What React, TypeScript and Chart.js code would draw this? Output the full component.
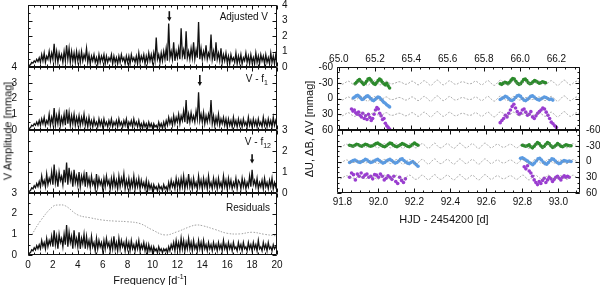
import React, { useEffect, useRef } from 'react';
import { Chart, registerables } from 'chart.js';
Chart.register(...registerables);

const FONT = "'Liberation Sans', Arial, Helvetica, sans-serif";

// ---------- Left: amplitude spectra (step 0.1 d^-1, 0..20) ----------
const FREQ_STEP = 0.1;
const adjustedV = [
  0.02,0.1,0.15,0.3,0.25,0.4,0.3,0.5,0.35,0.6,
  0.3,0.8,0.4,0.9,0.3,0.7,0.5,1.0,0.4,0.9,
  0.5,1.5,0.4,1.0,0.3,0.9,0.5,0.8,0.3,1.0,
  0.4,1.4,0.5,1.2,0.3,1.0,0.4,0.9,0.3,1.0,
  0.4,0.9,0.3,1.0,0.4,0.8,0.5,1.2,0.3,0.8,
  0.2,0.7,0.4,0.8,0.3,0.6,0.2,0.8,0.3,0.7,
  0.4,0.8,0.2,0.7,0.3,0.6,0.4,0.8,0.2,0.7,
  0.3,0.6,0.2,0.7,0.3,0.8,0.4,0.6,0.2,0.7,
  0.3,0.7,0.2,0.8,0.4,0.6,0.3,0.7,0.2,0.9,
  0.3,0.7,0.4,0.8,0.2,0.7,0.3,0.9,0.4,0.8,
  0.3,0.9,0.4,1.9,0.5,0.8,0.3,0.9,0.4,1.0,
  0.5,1.2,0.4,2.8,0.6,1.0,0.5,1.6,0.4,1.0,
  0.6,1.2,0.5,2.5,0.7,1.1,0.5,2.3,0.6,1.0,
  0.5,1.2,0.6,1.6,0.5,1.1,0.6,2.9,0.5,1.2,
  0.5,1.0,0.6,1.4,0.5,0.9,0.6,2.1,0.5,1.0,
  0.4,1.6,0.5,0.9,0.4,1.2,0.3,0.8,0.4,0.9,
  0.3,0.7,0.2,0.8,0.4,0.6,0.3,0.9,0.2,0.7,
  0.3,0.8,0.2,0.6,0.4,0.9,0.3,0.7,0.2,0.8,
  0.3,0.6,0.2,0.9,0.3,0.7,0.2,0.8,0.4,0.7,
  0.2,0.8,0.3,0.6,0.2,0.9,0.3,0.7,0.2,0.8,
  0.4,
];
const vMinusF1 = [
  0.02,0.1,0.15,0.3,0.25,0.4,0.3,0.5,0.3,0.6,
  0.3,0.7,0.4,0.8,0.3,0.6,0.4,1.0,0.3,0.8,
  0.4,1.4,0.3,0.9,0.4,1.1,0.3,0.8,0.4,1.0,
  0.3,1.3,0.4,1.1,0.3,0.9,0.4,1.0,0.3,0.8,
  0.4,0.9,0.3,0.8,0.4,1.0,0.3,0.7,0.2,0.8,
  0.3,0.6,0.2,0.7,0.3,0.5,0.2,0.7,0.3,0.6,
  0.2,0.7,0.3,0.5,0.2,0.6,0.3,0.7,0.2,0.5,
  0.3,0.6,0.2,0.7,0.3,0.5,0.2,0.6,0.3,0.7,
  0.2,0.5,0.3,0.6,0.2,0.7,0.3,0.5,0.2,0.6,
  0.2,0.4,0.1,0.5,0.2,0.4,0.1,0.5,0.2,0.4,
  0.1,0.4,0.2,0.3,0.1,0.5,0.2,0.4,0.1,0.5,
  0.2,0.6,0.3,0.8,0.4,0.7,0.3,0.9,0.4,0.8,
  0.5,1.0,0.4,0.9,0.6,1.2,0.5,1.9,0.4,1.0,
  0.5,1.1,0.6,0.9,0.5,1.2,0.7,2.4,0.6,1.0,
  0.5,1.1,0.4,0.9,0.5,1.0,0.6,1.9,0.4,0.9,
  0.3,0.8,0.4,1.0,0.3,0.7,0.4,0.8,0.3,0.7,
  0.2,0.7,0.3,0.6,0.2,0.8,0.3,0.6,0.2,0.7,
  0.3,0.6,0.2,0.7,0.3,0.5,0.2,0.8,0.3,0.6,
  0.2,0.7,0.3,0.6,0.2,0.7,0.3,0.5,0.2,0.8,
  0.3,0.6,0.2,0.7,0.3,0.6,0.2,0.8,0.3,0.6,
  0.3,
];
const vMinusF12 = [
  0.02,0.08,0.12,0.25,0.2,0.35,0.25,0.45,0.3,0.55,
  0.3,0.8,0.4,0.6,0.3,0.9,0.4,0.7,0.5,1.0,
  0.4,1.35,0.5,0.9,0.3,1.0,0.6,0.8,0.4,1.1,
  0.5,1.45,0.4,1.2,0.6,0.9,0.3,1.1,0.5,0.8,
  0.4,1.0,0.3,0.8,0.5,0.9,0.3,1.0,0.4,0.7,
  0.3,0.8,0.4,0.6,0.2,0.9,0.3,0.7,0.4,0.6,
  0.2,0.7,0.3,0.8,0.4,0.6,0.2,0.7,0.3,0.8,
  0.3,0.6,0.2,0.8,0.3,0.7,0.4,0.9,0.2,0.6,
  0.3,0.7,0.2,0.6,0.3,0.8,0.2,0.6,0.3,0.7,
  0.2,0.6,0.3,0.5,0.2,0.6,0.1,0.5,0.2,0.4,
  0.1,0.4,0.2,0.3,0.1,0.4,0.2,0.3,0.1,0.4,
  0.2,0.3,0.1,0.5,0.2,0.6,0.3,0.5,0.2,0.7,
  0.3,0.6,0.2,0.7,0.3,0.8,0.2,0.6,0.3,0.9,
  0.3,0.6,0.2,0.7,0.3,0.5,0.2,0.8,0.3,0.6,
  0.2,0.7,0.3,0.6,0.2,0.8,0.3,0.5,0.2,0.7,
  0.3,0.6,0.2,0.7,0.3,0.5,0.2,0.8,0.3,0.6,
  0.2,0.7,0.3,0.6,0.2,0.5,0.3,0.7,0.2,0.6,
  0.5,0.2,0.7,0.3,0.6,0.2,0.5,0.3,0.8,0.3,
  1.1,0.4,0.6,0.3,0.7,0.2,0.5,0.3,0.6,0.2,
  0.7,0.3,0.5,0.2,0.6,0.3,0.7,0.2,0.5,0.3,
  0.6,
];
const residuals = [
  0.02,0.08,0.12,0.25,0.2,0.35,0.25,0.45,0.3,0.5,
  0.3,0.7,0.4,0.6,0.3,0.8,0.4,0.7,0.5,0.9,
  0.4,1.2,0.5,0.9,0.3,1.0,0.6,0.8,0.4,1.0,
  0.5,1.45,0.4,1.1,0.6,0.9,0.3,1.2,0.5,0.8,
  0.4,1.1,0.3,0.8,0.5,1.0,0.3,0.9,0.4,0.7,
  0.3,0.9,0.4,0.6,0.2,0.8,0.3,0.7,0.4,0.6,
  0.2,0.7,0.3,0.8,0.4,0.6,0.2,0.7,0.3,0.9,
  0.3,0.6,0.2,0.8,0.3,0.7,0.4,0.6,0.2,0.7,
  0.3,0.6,0.2,0.7,0.3,0.5,0.2,0.6,0.3,0.7,
  0.2,0.5,0.3,0.6,0.2,0.5,0.1,0.5,0.2,0.4,
  0.1,0.4,0.2,0.3,0.1,0.4,0.2,0.3,0.1,0.3,
  0.2,0.3,0.1,0.4,0.2,0.5,0.3,0.6,0.2,0.7,
  0.3,0.6,0.2,0.8,0.3,0.7,0.2,0.6,0.3,0.8,
  0.3,0.6,0.2,0.7,0.3,0.5,0.2,0.7,0.3,0.6,
  0.2,0.7,0.3,0.5,0.2,0.6,0.3,0.5,0.2,0.6,
  0.3,0.5,0.2,0.6,0.3,0.5,0.2,0.7,0.3,0.5,
  0.2,0.6,0.3,0.5,0.2,0.6,0.3,0.4,0.2,0.6,
  0.3,0.5,0.2,0.6,0.3,0.4,0.2,0.6,0.3,0.5,
  0.2,0.6,0.3,0.5,0.2,0.7,0.3,0.4,0.2,0.6,
  0.3,0.5,0.2,0.6,0.3,0.4,0.2,0.5,0.3,0.4,
  0.3,
];
// significance level curve in the residual panel
const noiseFreq = [0.3, 1, 2, 2.5, 3, 4, 5, 6, 7, 8, 9, 10, 11, 12, 13, 13.5, 14, 15, 16, 17, 18, 19, 20];
const noiseLevel = [0.97, 1.65, 2.35, 2.42, 2.38, 1.94, 1.8, 1.69, 1.64, 1.61, 1.52, 1.21, 0.97, 1.13, 1.37, 1.45, 1.42, 1.24, 1.05, 1.02, 1.1, 1.0, 0.92];
// arrows marking the removed frequencies (panels 1..3)
const arrowFreq = [11.35, 13.8, 18.0];
const arrowTop = [3.6, 3.5, 1.85];
const arrowBottom = [2.95, 2.8, 1.4];

const freqTicks = [0, 2, 4, 6, 8, 10, 12, 14, 16, 18, 20];
const ampTicks4 = [0, 1, 2, 3, 4];
const ampTicks3 = [0, 1, 2, 3];

// ---------- Right: light curves ----------
const MODEL_STEP = 0.0175;
const modelTopStart = 65.0;
const modelTop = [
  0,3,0,-3, 1,4,0,-4, 0,5,1,-4, 0,4,0,-3, 1,2,0,-2, 0,3,1,-3, 0,4,0,-4, 1,5,0,-5,
  0,4,0,-4, 1,3,0,-2, 0,2,1,-3, 0,4,0,-4, 1,5,0,-5, 0,4,1,-4, 0,3,0,-2, 1,2,0,-3,
  0,4,0,-4, 1,5,0,-5, 0,4,0,-3, 0,
];
const modelBotStart = 91.77;
const modelBot = [
  0,3,0,-3, 0,2,1,-2, 0,3,0,-3, 1,4,0,-4, 0,4,0,-4, 1,5,0,-4, 0,4,1,-4, 0,5,0,-5,
  1,4,0,-4, 0,5,1,-5, 0,4,0,-4, 1,5,0,-5, 0,4,0,-3, 1,3,0,-3, 0,4,0,-4, 1,5,0,-4,
  0,4,1,-4, 0,3,0,-3, 1,4,0,-4, 0,3,
];
const offsetU = -30, offsetB = 0, offsetV = 30;

const uTopA = [-28,-31,-34,-36,-33,-30,-27,-29,-33,-37,-38,-35,-31,-28,-27,-30,-34,-37,-35,-31,-28,-26,-29,-24,-20];
const uTopB = [-28,-27,-29,-31,-30,-28,-31,-35,-38,-37,-33,-29,-27,-28,-32,-36,-37,-34,-30,-28,-29,-32,-34,-33,-31,-29,-30,-32,-31,-30];
const bTopA = [-1,-3,-5,-6,-4,-1,2,1,-2,-4,-5,-3,0,3,4,2,-1,-3,-2,1,4,7,9,12,14,16];
const bTopB = [2,0,-2,-4,-3,0,3,4,2,-2,-5,-6,-4,0,3,4,2,-1,-4,-5,-3,0,2,3,1,-1,-3,-2,0,2,1,3];
const vTopA = [20,24,22,27,30,26,32,35,28,38,33,40,30,36,42,38,30,22,17,20,28,33,40,38,47,52,55,58];
const vTopB = [46,42,38,32,35,28,22,15,11,18,25,30,28,22,20,26,32,30,25,35,38,33,28,25,22,18,20,26,32,38,45,48,52,55];
const uBotA = [-31,-30,-29,-31,-33,-32,-30,-29,-31,-33,-32,-30,-29,-30,-32,-34,-35,-33,-31,-29,-28,-30,-33,-35,-34,-31,-29,-28,-30,-32,-34,-33,-31,-29,-28,-30,-33,-35,-33,-31];
const uBotB = [-31,-30,-29,-30,-32,-28,-26,-29,-33,-36,-34,-30,-27,-29,-33,-36,-34,-30,-27,-28,-31,-34,-32,-29,-28,-30,-32,-31,-30,-30];
const bBotA = [2,0,-2,-3,-1,1,2,0,-2,-4,-3,0,2,1,-1,-3,-4,-2,1,3,2,-1,-3,-4,-2,1,3,2,-1,-4,-5,-2,1,3,4,2,0,3,6,9];
const bBotB = [-6,-7,-5,-3,-1,2,4,6,3,-1,-5,-6,-3,1,4,5,2,-2,-5,-4,-1,2,4,3,0,-2,-1,0,-1,0];
const vBotA = [30,22,25,35,24,28,22,30,26,24,30,28,33,25,26,30,24,28,35,32,27,30,34,28,38,42,30,36,40,33];
const vBotB = [10,14,8,18,22,28,35,40,44,38,42,36,32,40,35,30,33,38,34,30,28,32,35,30,27,30,28,30];
// time span [start, end] of each observing run
const uTopASpan = [65.09, 65.28], uTopBSpan = [65.89, 66.14];
const bTopASpan = [65.08, 65.28], bTopBSpan = [65.89, 66.18];
const vTopASpan = [65.07, 65.28], vTopBSpan = [65.89, 66.2];
const uBotASpan = [91.84, 92.22], uBotBSpan = [92.8, 93.07];
const bBotASpan = [91.84, 92.22], bBotBSpan = [92.79, 93.07];
const vBotASpan = [91.84, 92.15], vBotBSpan = [92.81, 93.06];

const hjdTopTicks = [65.0, 65.2, 65.4, 65.6, 65.8, 66.0, 66.2];
const hjdBotTicks = [91.8, 92.0, 92.2, 92.4, 92.6, 92.8, 93.0];
const dmagTicks = [-60, -30, 0, 30, 60];

const GREEN = '#2b8a2b';
const BLUE = '#5b9be2';
const PURPLE = '#9a3dd0';

// ---------- helpers ----------
const W = 600, H = 285;
const spectrum = (vals: number[]) => vals.map((v, i) => ({ x: +(i * FREQ_STEP).toFixed(2), y: v }));
const model = (start: number, vals: number[], off: number) => vals.map((v, i) => ({ x: start + i * MODEL_STEP, y: v + off }));
const run = (span: number[], vals: number[]) => vals.map((v, i) => ({ x: span[0] + (span[1] - span[0]) * i / (vals.length - 1), y: v }));

const framePlugin = {
  id: 'frame',
  afterDatasetsDraw(chart: any, _a: any, opts: any) {
    if (!opts || !opts.on) return;
    const { ctx, chartArea: a } = chart;
    const xs = chart.scales.x, ys = chart.scales.y;
    const L = Math.round(a.left) + 0.5, R = Math.round(a.right) - 0.5;
    const T = Math.round(a.top) + 0.5, B = Math.round(a.bottom) - 0.5;
    ctx.save();
    ctx.strokeStyle = '#111';
    ctx.lineWidth = 1;
    ctx.beginPath();
    ctx.rect(L, T, R - L, B - T);
    const yTicks = (step: number, len: number) => {
      const lo = Math.min(ys.min, ys.max), hi = Math.max(ys.min, ys.max);
      for (let v = Math.ceil(lo / step) * step; v <= hi + 1e-9; v += step) {
        const p = Math.round(ys.getPixelForValue(v)) + 0.5;
        ctx.moveTo(L, p); ctx.lineTo(L + len, p);
        ctx.moveTo(R, p); ctx.lineTo(R - len, p);
      }
    };
    const x0 = Math.ceil(xs.min / opts.xMinor - 1e-9) * opts.xMinor;
    for (let v = x0; v <= xs.max + 1e-9; v += opts.xMinor) {
      const p = Math.round(xs.getPixelForValue(v)) + 0.5;
      const isMajor = Math.abs(v / opts.xMajor - Math.round(v / opts.xMajor)) < 1e-6;
      const len = isMajor ? 4 : 2;
      ctx.moveTo(p, B); ctx.lineTo(p, B - len);
      ctx.moveTo(p, T); ctx.lineTo(p, T + len);
    }
    yTicks(opts.yMinor, 2);
    yTicks(opts.yMajor, 4);
    ctx.stroke();
    if (opts.arrow) {
      const { x, y0, y1 } = opts.arrow;
      const px = xs.getPixelForValue(x), pt = ys.getPixelForValue(y0), pb = ys.getPixelForValue(y1);
      ctx.fillStyle = '#111';
      ctx.lineWidth = 1.6;
      ctx.beginPath();
      ctx.moveTo(px, pt); ctx.lineTo(px, pb - 3);
      ctx.stroke();
      ctx.beginPath();
      ctx.moveTo(px - 2.2, pb - 4); ctx.lineTo(px + 2.2, pb - 4); ctx.lineTo(px, pb);
      ctx.closePath(); ctx.fill();
    }
    ctx.restore();
  },
};

type Rect = { l: number; t: number; r: number; b: number };
interface PanelCfg {
  rect: Rect;
  xMin: number; xMax: number; yMin: number; yMax: number;
  reverse?: boolean;
  xPos?: 'top' | 'bottom';
  yPos: 'left' | 'right';
  xTicks: number[]; yTicks: number[];
  xPad?: number; yPad: number;
  xFmt?: (v: number) => string;
  xMinor: number; xMajor: number; yMinor: number; yMajor: number;
  arrow?: { x: number; y0: number; y1: number };
  datasets: any[];
}

const YW = 30, XH = 16;
function makeConfig(c: PanelCfg): any {
  const padding = {
    left: c.rect.l - (c.yPos === 'left' ? YW : 0),
    right: W - c.rect.r - (c.yPos === 'right' ? YW : 0),
    top: c.rect.t - (c.xPos === 'top' ? XH : 0),
    bottom: H - c.rect.b - (c.xPos === 'bottom' ? XH : 0),
  };
  const tickFont = { family: FONT, size: 10 };
  return {
    type: 'line',
    data: { datasets: c.datasets },
    options: {
      animation: false,
      responsive: false,
      maintainAspectRatio: false,
      events: [],
      layout: { padding },
      plugins: {
        legend: { display: false },
        tooltip: { enabled: false },
        title: { display: false },
        frame: { on: true, xMinor: c.xMinor, xMajor: c.xMajor, yMinor: c.yMinor, yMajor: c.yMajor, arrow: c.arrow },
      },
      scales: {
        x: {
          type: 'linear',
          position: c.xPos || 'bottom',
          display: !!c.xPos,
          min: c.xMin, max: c.xMax,
          grid: { display: false, drawTicks: false },
          border: { display: false },
          ticks: {
            padding: c.xPad ?? 3, font: tickFont, color: '#111', maxRotation: 0, autoSkip: false,
            callback: (v: number) => (c.xFmt ? c.xFmt(v) : String(v)),
          },
          afterBuildTicks: (s: any) => { s.ticks = c.xTicks.map((v) => ({ value: v })); },
          afterFit: (s: any) => { if (c.xPos) { s.height = XH; } s.paddingLeft = 0; s.paddingRight = 0; },
        },
        y: {
          type: 'linear',
          position: c.yPos,
          reverse: !!c.reverse,
          min: c.yMin, max: c.yMax,
          grid: { display: false, drawTicks: false },
          border: { display: false },
          ticks: { padding: c.yPad, font: tickFont, color: '#111', autoSkip: false, callback: (v: number) => String(v) },
          afterBuildTicks: (s: any) => { s.ticks = c.yTicks.map((v) => ({ value: v })); },
          afterFit: (s: any) => { s.width = YW; s.paddingTop = 0; s.paddingBottom = 0; },
        },
      },
    },
    plugins: [framePlugin],
  };
}

const specLine = (vals: number[]) => ({
  data: spectrum(vals), borderColor: '#111', borderWidth: 1.3, pointRadius: 0, tension: 0, fill: false,
});
const modelLine = (start: number, vals: number[], off: number) => ({
  data: model(start, vals, off), borderColor: '#8a8a8a', borderWidth: 0.7, borderDash: [2, 1.5],
  pointRadius: 0, tension: 0.4, fill: false,
});
const dots = (pts: any[], color: string) => ({
  data: pts, showLine: false, pointRadius: 1.8, pointBorderWidth: 0, pointBackgroundColor: color, borderColor: color,
});

const leftRect = (t: number, b: number): Rect => ({ l: 28, t, r: 277, b });
const panels: PanelCfg[] = [
  {
    rect: leftRect(5, 67), xMin: 0, xMax: 20, yMin: 0, yMax: 4, yPos: 'right', xTicks: freqTicks, yTicks: ampTicks4,
    yPad: 5, xMinor: 0.5, xMajor: 2, yMinor: 0.5, yMajor: 1,
    arrow: { x: arrowFreq[0], y0: arrowTop[0], y1: arrowBottom[0] },
    datasets: [specLine(adjustedV)],
  },
  {
    rect: leftRect(67, 130), xMin: 0, xMax: 20, yMin: 0, yMax: 4, yPos: 'left', xTicks: freqTicks, yTicks: ampTicks4,
    yPad: 11, xMinor: 0.5, xMajor: 2, yMinor: 0.5, yMajor: 1,
    arrow: { x: arrowFreq[1], y0: arrowTop[1], y1: arrowBottom[1] },
    datasets: [specLine(vMinusF1)],
  },
  {
    rect: leftRect(130, 193), xMin: 0, xMax: 20, yMin: 0, yMax: 3, yPos: 'right', xTicks: freqTicks, yTicks: ampTicks3,
    yPad: 5, xMinor: 0.5, xMajor: 2, yMinor: 0.5, yMajor: 1,
    arrow: { x: arrowFreq[2], y0: arrowTop[2], y1: arrowBottom[2] },
    datasets: [specLine(vMinusF12)],
  },
  {
    rect: leftRect(193, 255), xMin: 0, xMax: 20, yMin: 0, yMax: 3, yPos: 'left', xPos: 'bottom', xTicks: freqTicks, yTicks: ampTicks3,
    xPad: 4, yPad: 11, xMinor: 0.5, xMajor: 2, yMinor: 0.5, yMajor: 1,
    datasets: [
      specLine(residuals),
      {
        data: noiseFreq.map((f, i) => ({ x: f, y: noiseLevel[i] })), borderColor: '#8a8a8a', borderWidth: 0.8,
        borderDash: [1.5, 1.5], pointRadius: 0, tension: 0.4, fill: false,
      },
    ],
  },
  {
    rect: { l: 337, t: 67, r: 580, b: 130 }, xMin: 64.99, xMax: 66.33, yMin: -60, yMax: 60, reverse: true,
    yPos: 'left', xPos: 'top', xTicks: hjdTopTicks, yTicks: dmagTicks, xPad: 2, yPad: 4,
    xFmt: (v) => v.toFixed(1), xMinor: 0.05, xMajor: 0.2, yMinor: 10, yMajor: 30,
    datasets: [
      modelLine(modelTopStart, modelTop, offsetU), modelLine(modelTopStart, modelTop, offsetB), modelLine(modelTopStart, modelTop, offsetV),
      dots(run(uTopASpan, uTopA), GREEN), dots(run(uTopBSpan, uTopB), GREEN),
      dots(run(bTopASpan, bTopA), BLUE), dots(run(bTopBSpan, bTopB), BLUE),
      dots(run(vTopASpan, vTopA), PURPLE), dots(run(vTopBSpan, vTopB), PURPLE),
    ],
  },
  {
    rect: { l: 337, t: 130, r: 580, b: 193 }, xMin: 91.77, xMax: 93.12, yMin: -60, yMax: 60, reverse: true,
    yPos: 'right', xPos: 'bottom', xTicks: hjdBotTicks, yTicks: dmagTicks, xPad: 3, yPad: 6,
    xFmt: (v) => v.toFixed(1), xMinor: 0.05, xMajor: 0.2, yMinor: 10, yMajor: 30,
    datasets: [
      modelLine(modelBotStart, modelBot, offsetU), modelLine(modelBotStart, modelBot, offsetB), modelLine(modelBotStart, modelBot, offsetV),
      dots(run(uBotASpan, uBotA), GREEN), dots(run(uBotBSpan, uBotB), GREEN),
      dots(run(bBotASpan, bBotA), BLUE), dots(run(bBotBSpan, bBotB), BLUE),
      dots(run(vBotASpan, vBotA), PURPLE), dots(run(vBotBSpan, vBotB), PURPLE),
    ],
  },
];

const textBase: React.CSSProperties = {
  position: 'absolute', fontFamily: FONT, fontSize: 10, color: '#111', whiteSpace: 'nowrap', lineHeight: 1,
};
const sub: React.CSSProperties = { fontSize: 7, verticalAlign: 'sub', lineHeight: 0 };

export default function App() {
  const refs = useRef<(HTMLCanvasElement | null)[]>([]);
  useEffect(() => {
    const charts = panels.map((p, i) => new Chart(refs.current[i] as HTMLCanvasElement, makeConfig(p)));
    return () => charts.forEach((c) => c.destroy());
  }, []);
  return (
    <div style={{ position: 'fixed', left: 0, top: 0, width: W, height: H, background: '#fff', overflow: 'hidden' }}>
      {panels.map((_, i) => (
        <canvas
          key={i}
          ref={(el) => { refs.current[i] = el; }}
          width={W}
          height={H}
          style={{ position: 'absolute', left: 0, top: 0, width: W, height: H }}
        />
      ))}
      <div style={{ ...textBase, right: W - 268, top: 12 }}>Adjusted V</div>
      <div style={{ ...textBase, right: W - 268, top: 74 }}>V - f<span style={sub}>1</span></div>
      <div style={{ ...textBase, right: W - 271, top: 137 }}>V - f<span style={sub}>12</span></div>
      <div style={{ ...textBase, right: W - 270, top: 203 }}>Residuals</div>
      <div style={{ ...textBase, fontSize: 11, left: 150, top: 280, transform: 'translate(-50%, -50%)' }}>
        Frequency [d<sup style={{ fontSize: 7, lineHeight: 0 }}>-1</sup>]
      </div>
      <div style={{ ...textBase, fontSize: 11, left: 8, top: 131, transform: 'translate(-50%, -50%) rotate(-90deg)' }}>
        V Amplitude [mmag]
      </div>
      <div style={{ ...textBase, fontSize: 11, left: 444, top: 219, transform: 'translate(-50%, -50%)' }}>
        HJD - 2454200 [d]
      </div>
      <div style={{ ...textBase, fontSize: 11, left: 309, top: 129, transform: 'translate(-50%, -50%) rotate(-90deg)' }}>
        ΔU, ΔB, ΔV [mmag]
      </div>
    </div>
  );
}
